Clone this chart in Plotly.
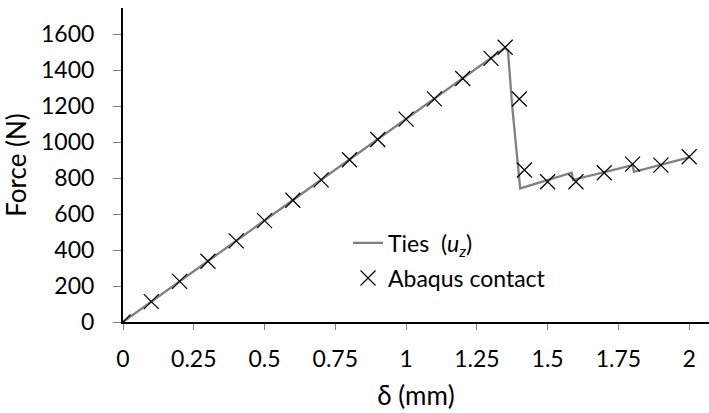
import plotly.graph_objects as go

# Ties (u_z) curve
ties_x = [0, 1.35, 1.36, 1.375, 1.403, 1.585, 1.59, 1.80, 1.805, 2.0]
ties_y = [0, 1525, 1505, 1197, 743, 830, 790, 872, 835, 915]

# Abaqus contact points
abq_x = [0, 0.1, 0.2, 0.3, 0.4, 0.5, 0.6, 0.7, 0.8, 0.9, 1.0, 1.1, 1.2, 1.3, 1.35,
         1.4, 1.418, 1.5, 1.6, 1.7, 1.8, 1.9, 2.0]
abq_y = [0, 113, 226, 338, 451, 564, 677, 790, 902, 1015, 1128, 1241, 1354, 1466, 1528,
         1240, 845, 780, 780, 830, 878, 872, 919]

x_ticks = [0, 0.25, 0.5, 0.75, 1, 1.25, 1.5, 1.75, 2]
x_labels = ["0", "0.25", "0.5", "0.75", "1", "1.25", "1.5", "1.75", "2"]
y_ticks = [0, 200, 400, 600, 800, 1000, 1200, 1400, 1600]

FONT = "Lato"

fig = go.Figure()
fig.add_trace(go.Scatter(
    x=ties_x, y=ties_y, mode="lines", name="Ties  (<i>u<sub>z</sub></i>)",
    line=dict(color="#808080", width=2.3), legend="legend", showlegend=True))
fig.add_trace(go.Scatter(
    x=abq_x, y=abq_y, mode="markers", name="Abaqus contact",
    marker=dict(symbol="x-thin-open", size=15, line=dict(color="black", width=1.2), color="black"),
    legend="legend2", showlegend=True))

legend_common = dict(bgcolor="rgba(0,0,0,0)", font=dict(family=FONT, size=23, color="black"),
                     xanchor="left", yanchor="middle", itemwidth=30, visible=True)
fig.update_layout(
    width=709, height=413,
    margin=dict(l=123, r=0, t=8, b=91),
    paper_bgcolor="white", plot_bgcolor="white",
    showlegend=True,
    font=dict(family=FONT, size=23, color="black"),
    legend=dict(x=0.384, y=0.252, **legend_common),
    legend2=dict(x=0.384, y=0.140, **legend_common),
    xaxis=dict(range=[0, 2.07], tickvals=x_ticks, ticktext=x_labels,
               showline=True, linecolor="black", linewidth=2,
               ticks="outside", ticklen=6, tickcolor="#808080", tickwidth=1,
               showgrid=False, zeroline=False, ticklabelstandoff=9,
               title=dict(text="δ (mm)", standoff=16, font=dict(size=26))),
    yaxis=dict(range=[0, 1746], tickvals=y_ticks,
               showline=True, linecolor="black", linewidth=2,
               ticks="outside", ticklen=8, tickcolor="#808080", tickwidth=1,
               showgrid=False, zeroline=False, ticklabelstandoff=14,
               title=dict(text="Force (N)", standoff=8, font=dict(size=26))),
)

fig.write_html("out.html")
